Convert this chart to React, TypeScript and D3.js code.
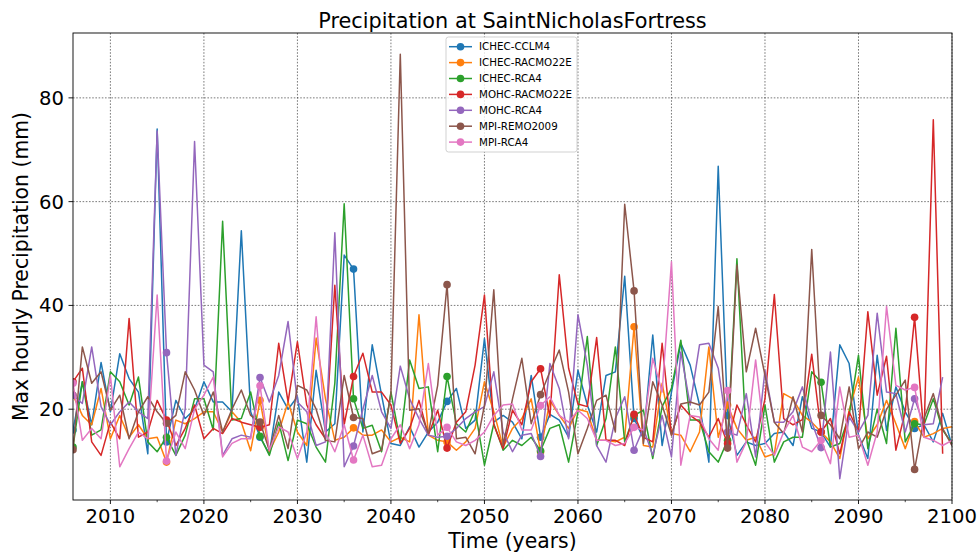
import React from "react";
import * as d3 from "d3";

const START_YEAR = 2006;
const seriesNames = [
  "ICHEC-CCLM4",
  "ICHEC-RACMO22E",
  "ICHEC-RCA4",
  "MOHC-RACMO22E",
  "MOHC-RCA4",
  "MPI-REMO2009",
  "MPI-RCA4",
];
const colors = ["#1f77b4", "#ff7f0e", "#2ca02c", "#d62728", "#9467bd", "#8c564b", "#e377c2"];

const ichecCclm4 = [
  16, 25.3, 17, 29, 19.5, 30.7, 25.9, 23.3, 11.4, 74,
  13.7, 21.7, 18.2, 20, 25.3, 21.4, 21.4, 19.5, 54.4, 19.5,
  14.6, 11.4, 23.3, 20, 22.4, 9.8, 27.5, 15.6, 17.2, 49.7,
  47, 15.6, 32.4, 22.7, 13.4, 13, 16.6, 12.7, 15.6, 17.5,
  21.5, 24, 16.3, 17.9, 33.6, 17.5, 18.8, 17.5, 14.3, 26.5,
  14.6, 19, 17.9, 14.6, 27.5, 20.8, 15.6, 26.5, 27.2, 45.6,
  18.2, 14.3, 34.3, 13, 23.3, 32.7, 28.5, 20.8, 9.8, 66.8,
  18.8, 11.1, 13.7, 13, 13.4, 15.3, 15.6, 13, 22.4, 16.3,
  15.6, 12.7, 32.4, 28.8, 15, 10.5, 30.4, 15.9, 24.3, 19.5,
  16.3, 17, 13.7, 19.2, 13,
];
const ichecRacmo22e = [
  22.7, 18.8, 17, 24, 14.3, 18.8, 14.6, 17, 14.3, 14.6,
  9.8, 17.9, 17.2, 18.2, 19.5, 19.5, 15.6, 19.5, 17.5, 12,
  21.7, 11.8, 15.6, 21.4, 15.6, 13, 33.7, 22, 14, 14.6,
  16.4, 15, 15, 16, 13.7, 14.6, 13.7, 38.2, 15, 14,
  13.7, 12.1, 13.7, 16.3, 25.3, 19.5, 12.7, 16.3, 18.2, 22,
  11.8, 21.7, 18.8, 16.3, 20, 19.5, 14, 14, 13.7, 14.6,
  35.9, 13, 12.7, 25, 15.3, 15, 11.8, 15.6, 32, 14.6,
  20.8, 16.3, 14, 14.6, 10.8, 11.4, 23, 22, 18.8, 17.5,
  15.6, 13.7, 10.5, 19.8, 26.2, 14.3, 17, 21.7, 17.2, 12.4,
  17.6, 14.6, 15.3, 16.3, 16.6,
];
const ichecRca4 = [
  12.7, 25.3, 15, 16, 27.2, 25.3, 20.8, 26.2, 13.7, 11.8,
  14.6, 11.1, 15, 22, 22, 16, 56.2, 17.9, 18.2, 23.3,
  14.8, 11.1, 17.5, 10.1, 17.9, 17.2, 12.7, 9.8, 25, 59.6,
  22, 16.3, 16.9, 11.8, 23.3, 13.7, 29.5, 24, 24.3, 11.8,
  26.3, 17.2, 15.6, 19.8, 9.2, 17.2, 12.1, 14, 13, 14.6,
  12, 16.3, 17, 9.8, 19.5, 34, 13, 18.2, 32, 13.7,
  18.8, 19.8, 10.5, 20.5, 24, 33.3, 17.9, 17.9, 11.8, 9.8,
  14, 49, 14.3, 9.2, 20.8, 9.8, 13.7, 14.6, 14.6, 27.2,
  25.2, 12.7, 13.4, 18.8, 30.4, 12.4, 20, 13.4, 35.6, 13.7,
  17.2, 17, 22, 16, 13.4,
];
const mohcRacmo22e = [
  25.3, 27.9, 13.7, 11.1, 17.5, 14.3, 37.5, 14.6, 15.6, 21.7,
  17.9, 13, 16.3, 20.8, 14.3, 16.3, 15.3, 18.2, 17.5, 17,
  16.5, 17, 32.7, 21.4, 33, 20.8, 17, 14.3, 43.9, 17,
  26.3, 30.8, 23.3, 23.3, 20.8, 13.4, 16.3, 21.7, 15, 19.8,
  12.5, 17.5, 19.5, 28.5, 42, 17, 12.4, 19.8, 17, 25.3,
  27.8, 18.5, 45.9, 27.9, 21, 20.5, 33.8, 14, 14, 13,
  19, 14.6, 13.7, 32.7, 15, 20.8, 18.8, 17.5, 14.6, 18.2,
  13.4, 20.8, 17, 13.7, 22, 42.1, 18.2, 17, 18, 30.6,
  15.6, 18.2, 11.4, 19.5, 15.6, 38.8, 22.7, 30.2, 12.1, 19.5,
  37.7, 15, 75.8, 11.4,
];
const mohcRca4 = [
  22.7, 21.1, 32, 20.5, 17, 19.5, 21.4, 19.5, 18.2, 73.6,
  30.9, 11.1, 20.1, 71.6, 28.5, 27.2, 11.1, 14.3, 15, 14.6,
  26.1, 21.4, 26.5, 36.9, 21.4, 19.5, 13, 13.7, 54, 8.9,
  12.9, 20, 26.5, 19.5, 16.3, 28.3, 22, 18.2, 15, 14.6,
  14.8, 16.3, 18.2, 19.5, 20.5, 27.2, 15.6, 11.8, 15, 15.3,
  10.9, 28.8, 24, 14.3, 38.2, 28.5, 13, 9.8, 18.2, 22.4,
  12.1, 16.3, 11.1, 18.8, 10.8, 31, 20.8, 32.4, 32.7, 27.9,
  15.6, 15, 23, 10.8, 27.5, 17.5, 17.5, 19.5, 24.3, 17.5,
  12.6, 31, 6.6, 18.5, 15.6, 18.8, 38.5, 23.3, 23, 15.6,
  22, 17, 17.2, 26.2,
];
const mpiRemo2009 = [
  12.2, 32, 25, 27.2, 19.8, 22.7, 14.3, 19.5, 22.4, 19.5,
  17.3, 18.8, 27.2, 23.7, 18.8, 23.3, 15.6, 20, 23.7, 18.8,
  17.5, 12.1, 18.8, 12.4, 24.6, 23.7, 20, 14, 13.7, 26.5,
  18.4, 18.2, 11.4, 12.1, 23, 88.4, 19.8, 20.1, 15.3, 24.6,
  44, 14.3, 14.6, 11.4, 20.8, 43, 13, 22, 29.8, 17.2,
  22.8, 27.2, 31.4, 23.3, 11.4, 16.3, 21.7, 22.7, 15.6, 59.5,
  42.8, 13.4, 25.3, 20.8, 15, 21, 21.4, 20.8, 23.3, 39.8,
  12.5, 47.8, 27.2, 35.6, 26.5, 17.5, 15.3, 22.4, 15.6, 50.8,
  18.8, 17, 14.3, 24.3, 12.4, 15.6, 14.6, 20, 22.7, 25.6,
  8.4, 18.2, 23, 16.3, 13,
];
const mpiRca4 = [
  25, 14, 16.3, 14.3, 26.5, 8.9, 12.4, 15.6, 14.3, 42,
  10, 15.6, 12.4, 20, 22.7, 26.2, 10.8, 13.4, 14.3, 14.3,
  24.5, 12.1, 16.6, 15.6, 10.5, 15.6, 37.8, 15.6, 11.8, 17,
  10.2, 15, 8.9, 9.2, 14.3, 17, 12.4, 17, 28.8, 15,
  16.5, 13.7, 13, 14, 15.6, 18.8, 20.8, 21, 16, 16,
  20.7, 22.4, 18.8, 17.5, 19.8, 18.2, 14, 14, 13, 13.4,
  16.5, 16, 29.8, 23.3, 48.4, 9.2, 18.8, 18.5, 14.3, 12.1,
  23.6, 9.8, 13.7, 29.5, 13.7, 11.1, 15.6, 18.8, 12.7, 11.8,
  14, 9.5, 24.3, 14.6, 15, 9.2, 15.6, 39.8, 24.6, 23.7,
  24.2, 14.6, 14, 13, 14,
];

const seriesValues = [ichecCclm4, ichecRacmo22e, ichecRca4, mohcRacmo22e, mohcRca4, mpiRemo2009, mpiRca4];
const xTicks = [2010, 2020, 2030, 2040, 2050, 2060, 2070, 2080, 2090, 2100];
const xMinorTicks = [2015, 2025, 2035, 2045, 2055, 2065, 2075, 2085, 2095];
const yTicks = [20, 40, 60, 80];

const W = 980;
const H = 558;
const M = { left: 73, right: 952, top: 33, bottom: 500 };
const FONT = "DejaVu Sans, sans-serif";

export default function App() {
  const x = d3.scaleLinear().domain([2006, 2100]).range([M.left, M.right]);
  const y = d3.scaleLinear().domain([2.5, 92.5]).range([M.bottom, M.top]);
  const line = d3
    .line<number>()
    .x((_, i) => x(START_YEAR + i))
    .y((d) => y(d));

  const legendX = 446;
  const legendY = 37;
  const rowH = 15.9;

  return (
    <svg
      width={W}
      height={H}
      style={{ position: "absolute", left: 0, top: 0, background: "#fff" }}
      fontFamily={FONT}
    >
      <rect x={0} y={0} width={W} height={H} fill="#fff" />
      <defs>
        <clipPath id="plotclip">
          <rect x={M.left} y={M.top} width={M.right - M.left} height={M.bottom - M.top} />
        </clipPath>
      </defs>
      {/* grid */}
      {xTicks.map((t) => (
        <line
          key={"gx" + t}
          x1={x(t)}
          x2={x(t)}
          y1={M.top}
          y2={M.bottom}
          stroke="#222"
          strokeWidth={0.6}
          strokeDasharray="1.6,1.6"
        />
      ))}
      {yTicks.map((t) => (
        <line
          key={"gy" + t}
          x1={M.left}
          x2={M.right}
          y1={y(t)}
          y2={y(t)}
          stroke="#222"
          strokeWidth={0.6}
          strokeDasharray="1.6,1.6"
        />
      ))}
      {/* series */}
      <g clipPath="url(#plotclip)">
        {seriesValues.map((vals, si) => (
          <g key={"s" + si}>
            <path d={line(vals) || ""} fill="none" stroke={colors[si]} strokeWidth={1.5} strokeLinejoin="round" />
            {vals.map((v, i) =>
              i % 10 === 0 ? (
                <circle key={i} cx={x(START_YEAR + i)} cy={y(v)} r={3.8} fill={colors[si]} />
              ) : null
            )}
          </g>
        ))}
      </g>
      {/* frame */}
      <rect
        x={M.left}
        y={M.top}
        width={M.right - M.left}
        height={M.bottom - M.top}
        fill="none"
        stroke="#000"
        strokeWidth={0.9}
      />
      {/* x ticks */}
      {xTicks.map((t) => (
        <g key={"xt" + t}>
          <line x1={x(t)} x2={x(t)} y1={M.bottom} y2={M.bottom + 4} stroke="#000" strokeWidth={0.9} />
          <text x={x(t)} y={523} textAnchor="middle" fontSize={19.6} fill="#000">
            {t}
          </text>
        </g>
      ))}
      {xMinorTicks.map((t) => (
        <line key={"xm" + t} x1={x(t)} x2={x(t)} y1={M.bottom} y2={M.bottom + 2.2} stroke="#000" strokeWidth={0.7} />
      ))}
      {/* y ticks */}
      {yTicks.map((t) => (
        <g key={"yt" + t}>
          <line x1={M.left - 4.5} x2={M.left} y1={y(t)} y2={y(t)} stroke="#000" strokeWidth={0.9} />
          <text x={M.left - 9} y={y(t) + 7} textAnchor="end" fontSize={19.6} fill="#000">
            {t}
          </text>
        </g>
      ))}
      {/* labels */}
      <text x={(M.left + M.right) / 2} y={28} textAnchor="middle" fontSize={20.8} fill="#000">
        Precipitation at SaintNicholasFortress
      </text>
      <text x={(M.left + M.right) / 2} y={548} textAnchor="middle" fontSize={20.4} fill="#000">
        Time (years)
      </text>
      <text
        transform={`translate(28, ${(M.top + M.bottom) / 2}) rotate(-90)`}
        textAnchor="middle"
        fontSize={20.4}
        fill="#000"
      >
        Max hourly Precipitation (mm)
      </text>
      {/* legend */}
      <rect
        x={legendX}
        y={legendY}
        width={131}
        height={115}
        rx={2.5}
        fill="#fff"
        fillOpacity={0.8}
        stroke="#ccc"
        strokeWidth={0.9}
      />
      {seriesNames.map((name, i) => {
        const cy = legendY + 9.7 + i * rowH;
        return (
          <g key={"lg" + name}>
            <line x1={legendX + 3} x2={legendX + 26} y1={cy} y2={cy} stroke={colors[i]} strokeWidth={1.5} />
            <circle cx={legendX + 14.5} cy={cy} r={3.8} fill={colors[i]} />
            <text x={legendX + 33} y={cy + 3.7} fontSize={10.3} fill="#000">
              {name}
            </text>
          </g>
        );
      })}
    </svg>
  );
}
